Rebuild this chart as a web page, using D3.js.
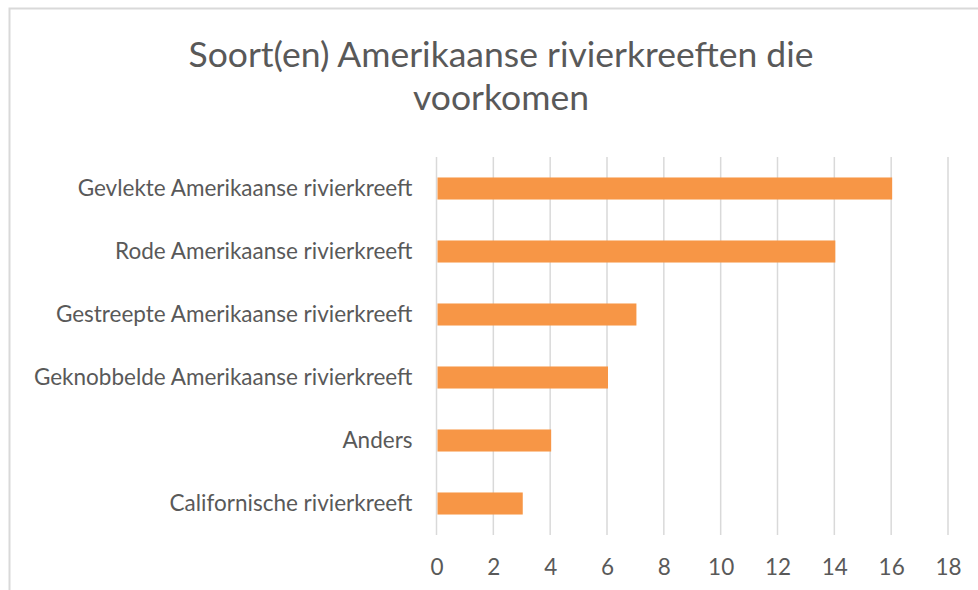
<!DOCTYPE html>
<html>
<head>
<meta charset="utf-8">
<script src="https://cdn.jsdelivr.net/npm/d3@7"></script>
<style>
    body { margin: 0; background: #fff; }
    svg { display: block; font-family: Lato, sans-serif; }
</style>
</head>
<body>
<div class="chart"></div>
<script>
    const titleLines = ['Soort(en) Amerikaanse rivierkreeften die', 'voorkomen'];
    const categories = [
        'Gevlekte Amerikaanse rivierkreeft',
        'Rode Amerikaanse rivierkreeft',
        'Gestreepte Amerikaanse rivierkreeft',
        'Geknobbelde Amerikaanse rivierkreeft',
        'Anders',
        'Californische rivierkreeft'
    ];
    const values = [16, 14, 7, 6, 4, 3];
    const xTicks = [0, 2, 4, 6, 8, 10, 12, 14, 16, 18];

    const width = 978, height = 590;
    const plot = { left: 436.5, right: 948, top: 157, bottom: 535 };

    const svg = d3.select('.chart').append('svg').attr('width', width).attr('height', height);

    // chart area border (only top and left visible in the crop)
    svg.append('rect')
        .attr('x', 9.5).attr('y', 8.5)
        .attr('width', 1200).attr('height', 1200)
        .attr('fill', 'none').attr('stroke', '#d9d9d9').attr('stroke-width', 2);

    svg.append('text')
        .attr('text-anchor', 'middle')
        .attr('fill', '#595959')
        .style('font-size', '35.5px')
        .selectAll('tspan').data(titleLines).enter().append('tspan')
        .attr('x', 501)
        .attr('y', function (d, i) { return 67 + i * 43; })
        .text(function (d) { return d; });

    const scaleX = d3.scaleLinear().domain([0, 18]).range([plot.left, plot.right]);
    const scaleY = d3.scaleBand().domain(categories).range([plot.top, plot.bottom]).paddingInner(0.65).paddingOuter(0.325);

    // gridlines
    svg.append('g').selectAll('line').data(xTicks).enter().append('line')
        .attr('x1', function (d) { return scaleX(d); })
        .attr('x2', function (d) { return scaleX(d); })
        .attr('y1', plot.top).attr('y2', plot.bottom)
        .attr('stroke', '#d9d9d9').attr('stroke-width', 1.5);

    svg.append('g').selectAll('rect').data(values).enter().append('rect')
        .attr('x', scaleX(0) + 1)
        .attr('y', function (d, i) { return scaleY(categories[i]); })
        .attr('width', function (d) { return scaleX(d) - scaleX(0); })
        .attr('height', scaleY.bandwidth())
        .attr('fill', '#f79646');

    const xAxis = d3.axisBottom(scaleX).tickValues(xTicks).tickSize(0).tickPadding(0);
    svg.append('g').attr('transform', 'translate(0,' + (plot.bottom + 24) + ')').call(xAxis)
        .call(function (g) { g.select('.domain').remove(); })
        .call(function (g) {
            g.selectAll('text').attr('fill', '#595959').style('font-size', '22.5px')
                .style('font-family', 'Lato, sans-serif');
        });

    const yAxis = d3.axisLeft(scaleY).tickSize(0).tickPadding(24);
    svg.append('g').attr('transform', 'translate(' + plot.left + ',0)').call(yAxis)
        .call(function (g) { g.select('.domain').remove(); })
        .call(function (g) {
            g.selectAll('text').attr('fill', '#595959').style('font-size', '22.5px')
                .style('font-family', 'Lato, sans-serif');
        });
</script>
</body>
</html>
